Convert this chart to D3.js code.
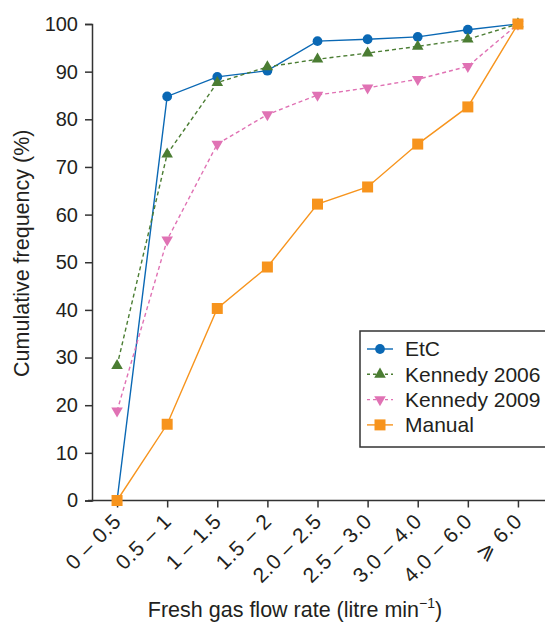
<!DOCTYPE html>
<html>
<head>
<meta charset="utf-8">
<script src="https://cdn.jsdelivr.net/npm/d3@7"></script>
<style>
  body { margin: 0; background: #fff; }
  svg text { font-family: "Liberation Sans", Arial, "DejaVu Sans", sans-serif; fill: #231f20; }
</style>
</head>
<body>
<svg id="chart" width="545" height="624"></svg>
<script>
let categories = ['0 – 0.5', '0.5 – 1', '1 – 1.5', '1.5 – 2', '2.0 – 2.5', '2.5 – 3.0', '3.0 – 4.0', '4.0 – 6.0', '⩾ 6.0'];
let etc = [0, 84.8, 88.9, 90.2, 96.4, 96.8, 97.3, 98.8, 100];
let kennedy2006 = [28.3, 72.7, 87.7, 91.0, 92.6, 93.9, 95.3, 96.8, 100];
let kennedy2009 = [18.8, 54.7, 74.8, 81.0, 85.1, 86.6, 88.4, 91.1, 100];
let manual = [0, 16.0, 40.3, 49.0, 62.2, 65.8, 74.8, 82.6, 100];
let yTicks = [0, 10, 20, 30, 40, 50, 60, 70, 80, 90, 100];

let series = [
    {name: 'EtC', values: etc, color: '#0a68b4', dash: null, symbol: d3.symbolCircle, size: 75},
    {name: 'Kennedy 2006', values: kennedy2006, color: '#4b7d33', dash: '4,3', symbol: d3.symbolTriangle, size: 58},
    {name: 'Kennedy 2009', values: kennedy2009, color: '#e072b4', dash: '4,3', symbol: d3.symbolTriangle, size: 58, flip: true},
    {name: 'Manual', values: manual, color: '#f7941d', dash: null, symbol: d3.symbolSquare, size: 121},
];

let svg = d3.select('#chart');
let plotLeft = 92, plotRight = 543, plotTop = 24, plotBottom = 500.5;

let x = d3.scalePoint().domain(categories).range([plotLeft, plotRight]).padding(0.5);
let y = d3.scaleLinear().domain([0, 100]).range([plotBottom, plotTop]);

let axisColor = '#333';

// y axis
let yAxis = svg.append('g')
    .attr('transform', `translate(${plotLeft},0)`)
    .call(d3.axisLeft(y).tickValues(yTicks).tickSize(7).tickPadding(7));
yAxis.select('.domain').attr('stroke', axisColor).attr('stroke-width', 1.5);
yAxis.selectAll('.tick line').attr('stroke', axisColor).attr('stroke-width', 1.5);
yAxis.selectAll('.tick text').style('font-size', '20px').attr('fill', '#231f20');

// x axis
let xAxis = svg.append('g')
    .attr('transform', `translate(0,${plotBottom})`)
    .call(d3.axisBottom(x).tickSize(7).tickSizeOuter(0));
xAxis.select('.domain').attr('stroke', axisColor).attr('stroke-width', 1.5)
    .attr('d', `M${plotLeft - 4},0H${plotRight + 2}`);
xAxis.selectAll('.tick line').attr('stroke', axisColor).attr('stroke-width', 1.5);
xAxis.selectAll('.tick text')
    .style('font-size', '21px')
    .style('letter-spacing', '0.6px')
    .attr('fill', '#231f20')
    .attr('text-anchor', 'end')
    .attr('dy', null)
    .attr('y', 0)
    .attr('transform', 'translate(5,22) rotate(-45)');

// axis titles
svg.append('text')
    .attr('transform', `translate(29,${(plotTop + plotBottom) / 2 - 9}) rotate(-90)`)
    .attr('text-anchor', 'middle')
    .style('font-size', '21.5px')
    .text('Cumulative frequency (%)');

let xt = svg.append('text')
    .attr('x', 295).attr('y', 617)
    .attr('text-anchor', 'middle')
    .style('font-size', '21.5px');
xt.append('tspan').text('Fresh gas flow rate (litre min');
xt.append('tspan').attr('dy', -9).style('font-size', '14px').text('−1');
xt.append('tspan').attr('dy', 9).text(')');

// lines and markers
let line = d3.line()
    .x((d, i) => x(categories[i]))
    .y(d => y(d));

function marker(s) {
    return d3.symbol().type(s.symbol).size(s.size)();
}

series.forEach(s => {
    let g = svg.append('g');
    g.append('path')
        .attr('d', line(s.values))
        .attr('fill', 'none')
        .attr('stroke', s.color)
        .attr('stroke-width', 1.4)
        .attr('stroke-dasharray', s.dash);
    g.selectAll('path.pt')
        .data(s.values)
        .enter().append('path')
        .attr('class', 'pt')
        .attr('d', marker(s))
        .attr('fill', s.color)
        .attr('transform', (d, i) => `translate(${x(categories[i])},${y(d)})` + (s.flip ? ' rotate(180)' : ''));
});

// legend
let legend = svg.append('g').attr('transform', 'translate(360,331)');
legend.append('rect')
    .attr('width', 190).attr('height', 116)
    .attr('fill', '#fff')
    .attr('stroke', '#333').attr('stroke-width', 1.5);

series.forEach((s, i) => {
    let row = legend.append('g').attr('transform', `translate(0,${18 + i * 25.3})`);
    row.append('line')
        .attr('x1', 7).attr('x2', 33)
        .attr('stroke', s.color).attr('stroke-width', 1.4)
        .attr('stroke-dasharray', s.dash ? '3,3' : null);
    row.append('path')
        .attr('d', marker(s))
        .attr('fill', s.color)
        .attr('transform', 'translate(20,0)' + (s.flip ? ' rotate(180)' : ''));
    row.append('text')
        .attr('x', 45).attr('dy', '0.35em')
        .style('font-size', '21px')
        .text(s.name);
});
</script>
</body>
</html>
